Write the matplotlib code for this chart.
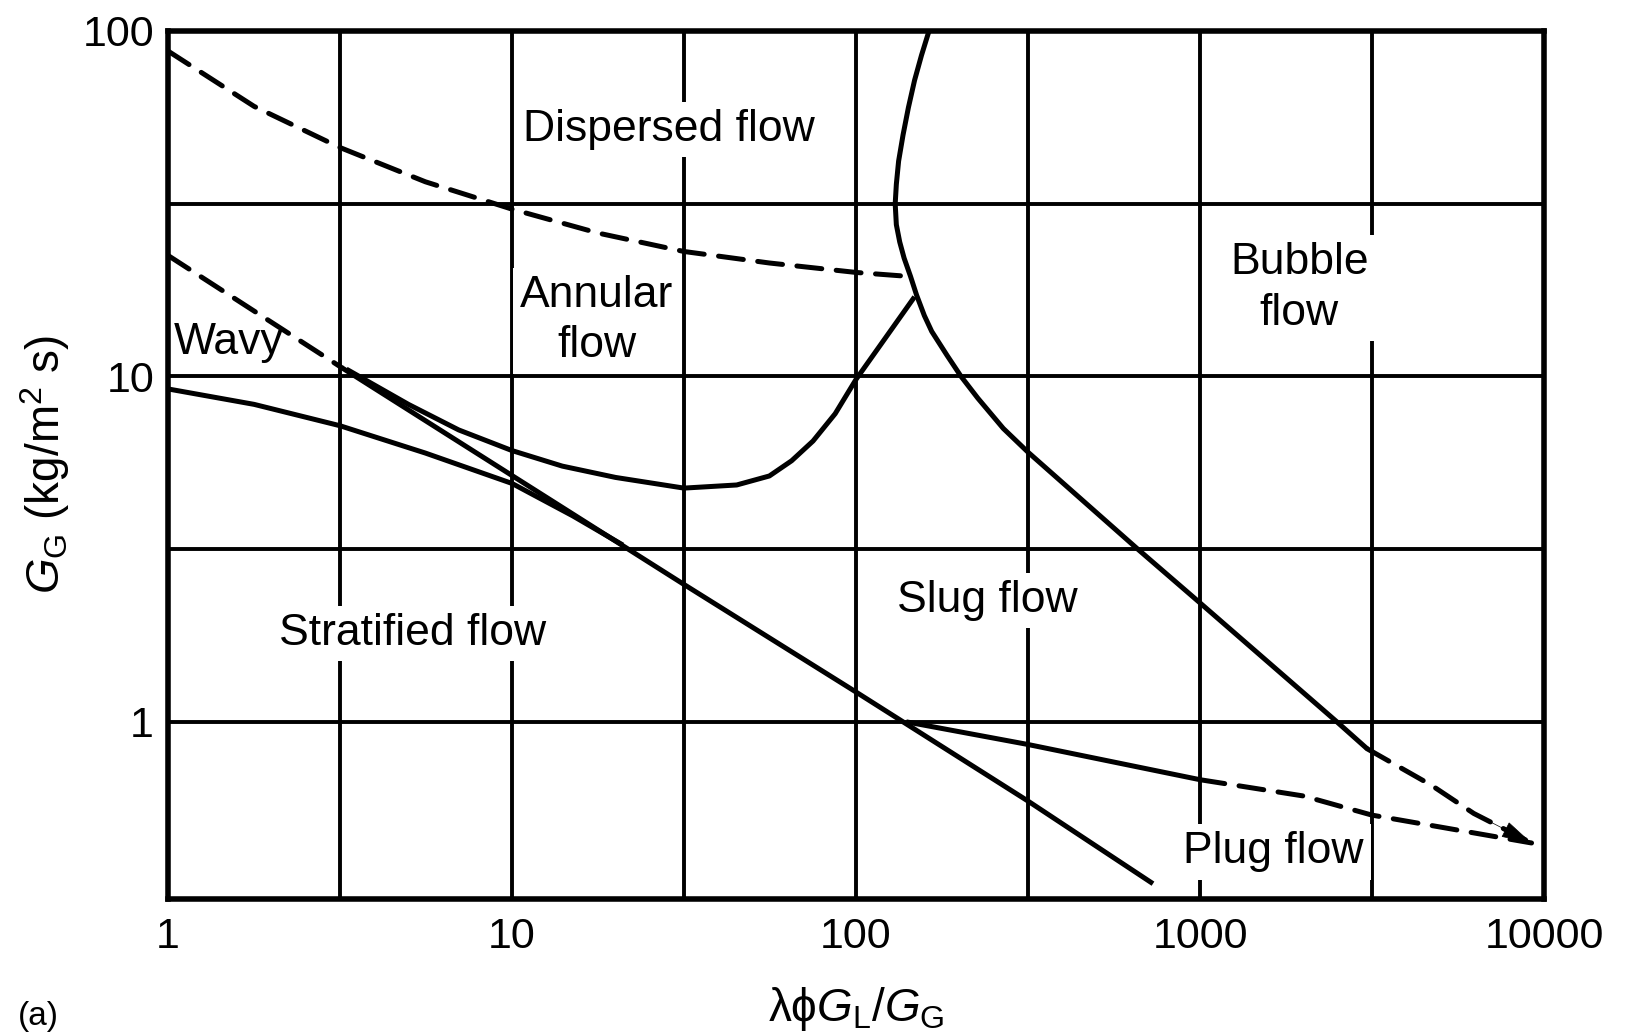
import matplotlib
matplotlib.use('Agg')
import matplotlib.pyplot as plt

plt.rcParams['font.family'] = ['Liberation Sans', 'DejaVu Sans']
plt.rcParams['mathtext.fontset'] = 'custom'
plt.rcParams['mathtext.rm'] = 'Liberation Sans'
plt.rcParams['mathtext.it'] = 'Liberation Sans:italic'
plt.rcParams['mathtext.bf'] = 'Liberation Sans:bold'

# ---- data (x = lambda*phi*GL/GG, y = GG) ----
disp_x = [1, 1.78, 3.16, 5.6, 10, 17.8, 31.6, 56, 100, 140]
disp_y = [87.5, 60.5, 46, 36.6, 30.5, 26, 23, 21.3, 20, 19.5]

wavy_dash_x = [1, 3.2]
wavy_dash_y = [22.4, 10.6]
strat_x = [3.2, 31.6, 100, 316, 730]
strat_y = [10.6, 2.5, 1.22, 0.59, 0.34]

lower_x = [1, 1.78, 3.16, 5.6, 10, 15, 21]
lower_y = [9.2, 8.3, 7.2, 6.0, 4.9, 3.95, 3.25]

ann_x = [3.3, 5, 7, 10, 14, 20, 31.6, 45, 56, 65, 75, 87, 100, 148]
ann_y = [10.5, 8.3, 7.0, 6.1, 5.5, 5.1, 4.75, 4.85, 5.15, 5.7, 6.5, 7.8, 9.8, 17]

bub_x = [163, 155, 148, 142, 137, 133, 131, 130, 131, 134, 138, 144, 150, 158, 166, 184, 202, 226, 268, 316, 655, 1000, 2500, 3060]
bub_y = [100, 85, 72, 60, 50, 42, 36, 31.6, 27.5, 24.5, 22, 19.5, 17.2, 15, 13.5, 11.5, 10, 8.65, 7.07, 6.04, 3.18, 2.21, 1.0, 0.836]
bub_dash_x = [3060, 4710, 6250, 9200]
bub_dash_y = [0.836, 0.655, 0.543, 0.446]

plug_x = [140, 316, 1000]
plug_y = [1.0, 0.86, 0.68]
plug_dash_x = [1000, 2000, 3162, 9200]
plug_dash_y = [0.68, 0.61, 0.537, 0.446]

x_ticks = [1, 10, 100, 1000, 10000]
x_ticklabels = ['1', '10', '100', '1000', '10000']
y_ticks = [1, 10, 100]
y_ticklabels = ['1', '10', '100']
x_grid = [3.16, 31.6, 316, 3162]
y_grid = [3.16, 31.6]

labels = [
    ('Dispersed flow', 28.6, 51.9),
    ('Annular\nflow', 17.6, 14.5),
    ('Bubble\nflow', 1945, 18.0),
    ('Slug flow', 241, 2.24),
    ('Stratified flow', 5.15, 1.80),
    ('Plug flow', 1636, 0.42),
]

# ---- figure ----
fig = plt.figure(figsize=(16.26, 10.35), dpi=100)
L, R, T, B = 168 / 1626, 1544 / 1626, 1 - 31 / 1035, 1 - 899 / 1035
ax = fig.add_axes([L, B, R - L, T - B])
ax.set_xscale('log')
ax.set_yscale('log')
ax.set_xlim(1, 10000)
ax.set_ylim(0.307, 100)

ax.set_xticks(x_ticks)
ax.set_xticklabels(x_ticklabels)
ax.set_yticks(y_ticks)
ax.set_yticklabels(y_ticklabels)
ax.set_xticks(x_grid, minor=True)
ax.set_yticks(y_grid, minor=True)
ax.xaxis.set_minor_formatter(plt.NullFormatter())
ax.yaxis.set_minor_formatter(plt.NullFormatter())
ax.tick_params(which='both', length=0)
ax.tick_params(axis='x', labelsize=31, pad=13)
ax.tick_params(axis='y', labelsize=31, pad=10)
ax.set_axisbelow(True)
ax.grid(True, which='both', color='black', linewidth=2.8)
for s in ax.spines.values():
    s.set_linewidth(4.0)
    s.set_color('black')

lw = 3.6
dash = (0, (5.0, 2.9))
kw_d = dict(color='black', lw=lw, ls=dash, dash_capstyle='round', zorder=5)
kw_s = dict(color='black', lw=lw, zorder=5, solid_capstyle='butt', solid_joinstyle='round')
ax.plot(disp_x, disp_y, **kw_d)
ax.plot(wavy_dash_x, wavy_dash_y, **kw_d)
ax.plot(strat_x, strat_y, **kw_s)
ax.plot(lower_x, lower_y, **kw_s)
ax.plot(ann_x, ann_y, **kw_s)
ax.plot(bub_x, bub_y, **kw_s)
ax.plot(bub_dash_x, bub_dash_y, **kw_d)
ax.plot(plug_x, plug_y, **kw_s)
ax.plot(plug_dash_x, plug_dash_y, **kw_d)
ax.annotate('', xy=(bub_dash_x[-1], bub_dash_y[-1]),
            xytext=(bub_dash_x[-2], bub_dash_y[-2]),
            arrowprops=dict(arrowstyle='-|>,head_length=0.8,head_width=0.22',
                            mutation_scale=25, lw=0.5, color='black',
                            shrinkA=0, shrinkB=0), zorder=6)

for txt, x, y in labels:
    ax.text(x, y, txt, fontsize=32, ha='center', va='center',
            linespacing=1.3, zorder=3,
            bbox=dict(facecolor='white', edgecolor='none', pad=5))
ax.text(1.04, 12.5, 'Wavy', fontsize=32, ha='left', va='center', zorder=3)

ax.set_xlabel('λϕ$G_{\\mathrm{L}}$/$G_{\\mathrm{G}}$', fontsize=33)
ax.set_ylabel('$G_{\\mathrm{G}}$ (kg/m$^2$ s)', fontsize=33)
ax.xaxis.set_label_coords(0.5, -0.099)
ax.yaxis.set_label_coords(-0.070, 0.5)

fig.text(0.011, 0.003, '(a)', fontsize=24, ha='left', va='bottom')

fig.savefig('out.png', dpi=100)
